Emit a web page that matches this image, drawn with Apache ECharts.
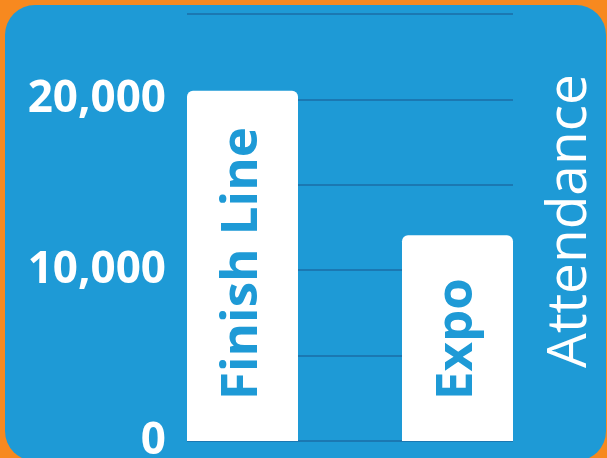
<!DOCTYPE html>
<html>
<head>
<meta charset="utf-8">
<script src="https://cdn.jsdelivr.net/npm/echarts@6/dist/echarts.min.js"></script>
<style>
  html, body { margin: 0; padding: 0; background: #f7891f; }
  #chart { width: 607px; height: 458px; }
</style>
</head>
<body>
<div id="chart"></div>
<script>
const categories = ["Finish Line", "Expo"];
const attendance = [20500, 12050];
const yLabelValues = [0, 10000, 20000];

const BLUE = "#1e9ad6";
const FONT = "Open Sans";

const chart = echarts.init(document.getElementById("chart"));

const option = {
  backgroundColor: "#f7891f",
  animation: false,
  graphic: [
    {
      type: "rect",
      z: -100,
      silent: true,
      shape: { x: 5, y: 5, width: 601, height: 456, r: 30 },
      style: { fill: BLUE },
    },
  ],
  grid: [
    { left: 187, right: 94, top: 14, bottom: 17, outerBoundsMode: "none" },
    { left: 135, right: 42, top: 14, bottom: 17, outerBoundsMode: "none" },
  ],
  xAxis: [
    {
      gridIndex: 0,
      type: "category",
      data: categories,
      axisLine: { show: false },
      axisTick: { show: false },
      axisLabel: { show: false },
    },
    {
      gridIndex: 1,
      type: "category",
      data: categories,
      show: false,
    },
  ],
  yAxis: [
    {
      gridIndex: 0,
      type: "value",
      min: 0,
      max: 25000,
      interval: 5000,
      axisLine: { show: false },
      axisTick: { show: false },
      splitLine: { lineStyle: { color: "#1b78b2", width: 2 } },
      axisLabel: {
        margin: 21,
        color: "#ffffff",
        fontFamily: FONT,
        fontWeight: "bold",
        fontSize: 44,
        formatter: (v) =>
          yLabelValues.includes(v) ? v.toLocaleString("en-US") : "",
      },
    },
    {
      gridIndex: 1,
      type: "value",
      min: 0,
      max: 25000,
      show: false,
    },
    {
      gridIndex: 0,
      type: "value",
      position: "right",
      min: 0,
      max: 25000,
      name: "Attendance",
      nameLocation: "middle",
      nameRotate: 90,
      nameGap: 30,
      nameTextStyle: {
        color: "#ffffff",
        fontFamily: FONT,
        fontSize: 55,
        padding: [0, 0, 0, 13],
      },
      axisLine: { show: false },
      axisTick: { show: false },
      axisLabel: { show: false },
      splitLine: { show: false },
    },
  ],
  series: [
    {
      type: "bar",
      xAxisIndex: 1,
      yAxisIndex: 1,
      barWidth: 111,
      data: attendance,
      itemStyle: { color: "#ffffff", borderRadius: [6, 6, 0, 0] },
      label: {
        show: true,
        formatter: "{b}",
        position: "insideBottom",
        rotate: 90,
        align: "left",
        verticalAlign: "middle",
        distance: 41,
        color: BLUE,
        fontFamily: FONT,
        fontWeight: "bold",
        fontSize: 51,
      },
    },
  ],
};

chart.setOption(option);
</script>
</body>
</html>
